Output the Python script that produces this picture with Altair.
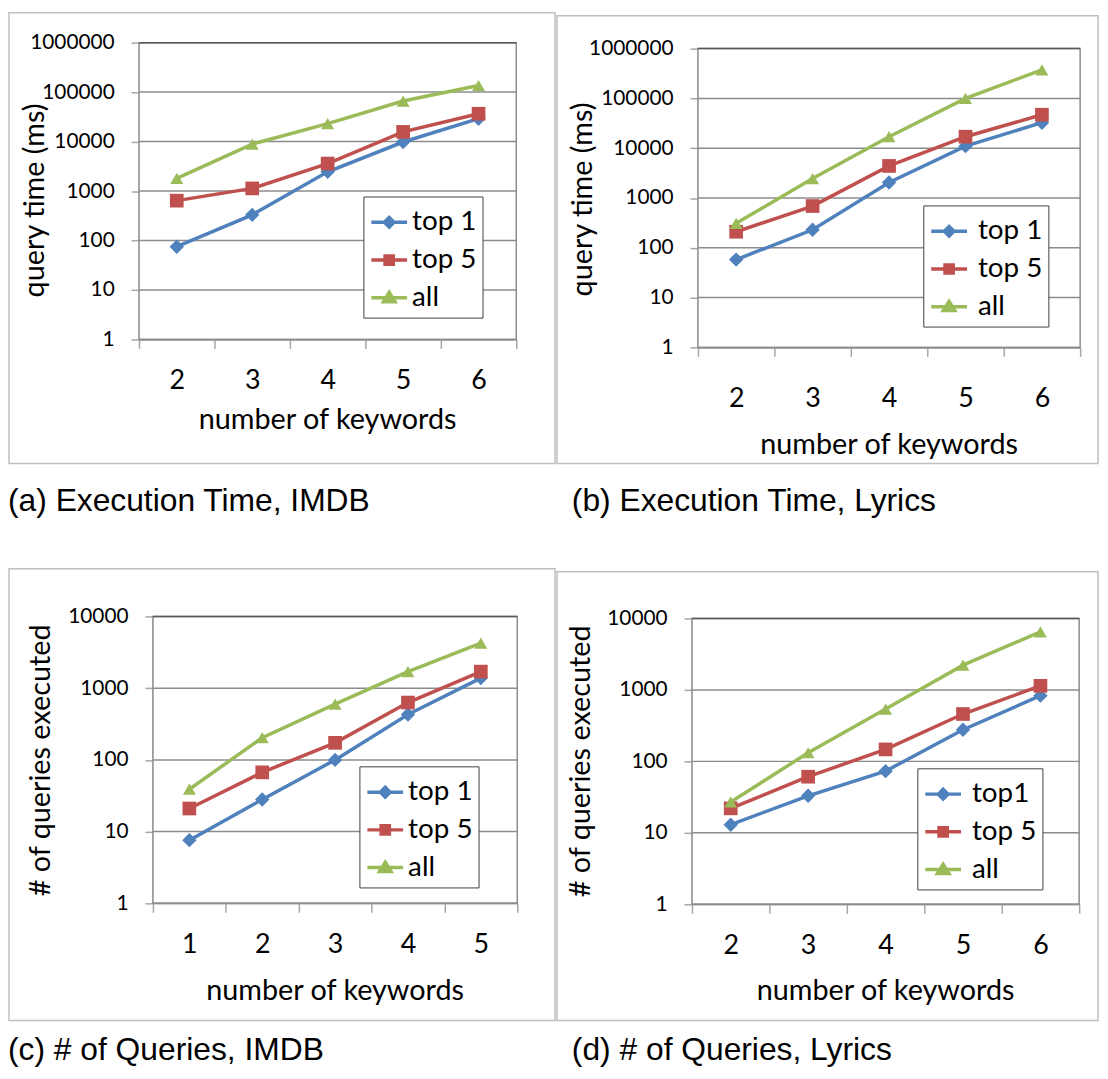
import altair as alt
import pandas as pd

# ---------------- data ----------------
keywords_abd = [2, 3, 4, 5, 6]
keywords_c = [1, 2, 3, 4, 5]
series_names = ["top 1", "top 5", "all"]
series_names_d = ["top1", "top 5", "all"]

a_top1 = [75, 330, 2450, 9800, 29000]
a_top5 = [640, 1130, 3600, 15700, 36500]
a_all = [1800, 8900, 23000, 66000, 136000]

b_top1 = [58, 230, 2050, 11000, 32500]
b_top5 = [210, 690, 4400, 17000, 47000]
b_all = [310, 2460, 17000, 100000, 375000]

c_top1 = [7.6, 28, 100, 430, 1380]
c_top5 = [21, 67, 173, 630, 1700]
c_all = [39, 204, 600, 1700, 4250]

d_top1 = [13, 33, 73, 277, 830]
d_top5 = [22, 61, 147, 460, 1140]
d_all = [27, 132, 540, 2220, 6500]

ticks_time = [1, 10, 100, 1000, 10000, 100000, 1000000]
ticks_queries = [1, 10, 100, 1000, 10000]

# ---------------- style ----------------
FONT = "Lato"
CAP_FONT = "Liberation Sans"
COLORS = ["#4F81BD", "#C0504D", "#9BBB59"]
MARKERS = ["diamond", "square", "triangle-up"]
MARKER_SIZES = [210, 170, 240]
LEG_PATHS = [
    "M-1,0H1M0,-0.27L0.27,0L0,0.27L-0.27,0Z",
    "M-1,0H1M-0.23,-0.23H0.23V0.23H-0.23Z",
    "M-1,0H1M0,-0.3L0.32,0.22H-0.32Z",
]
AXC = "#A6A6A6"
GRIDC = "#8C8C8C"
TOPC = "#595959"
BORDERC = "#BFBFBF"

W, H = 1100, 1062
O = 7  # reference pixel that maps to the view origin


def v(p):
    return p - O


def panel(kw, vals, names, ticks, ytitle, caption, L):
    rows = []
    for name, series in zip(names, vals):
        for k, val in zip(kw, series):
            rows.append({"kw": k, "value": val, "series": name})
    df = pd.DataFrame(rows)
    x0, x1, y0, y1 = [v(p) for p in L["plot"]]  # left, right, top, bottom
    one = alt.Data(values=[{"k": 1}])
    ymax = ticks[-1]

    xscale = alt.Scale(type="band", range=[x0, x1], paddingInner=0, paddingOuter=0)
    yscale = alt.Scale(type="log", domain=[1, ymax], range=[y1, y0], nice=False)

    xaxis = alt.Axis(
        title=None, orient="bottom", offset=y1 - H, labelAngle=0, tickBand="extent",
        tickSize=9, tickWidth=1.5, tickColor=AXC, domainColor=AXC, domainWidth=1.5,
        grid=False, labelFont=FONT, labelFontSize=27, labelColor="black",
        labelBaseline="middle", labelPadding=v(L["xlab"]) - y1 - 9,
    )
    yaxis = alt.Axis(
        title=None, orient="left", offset=-x0, values=ticks, format="d", grid=False,
        tickSize=8, tickWidth=1.5, tickColor=AXC, domainColor=AXC, domainWidth=1.5,
        labelFont=FONT, labelFontSize=21, labelColor="black", labelPadding=17,
    )
    xenc = alt.X("kw:O", scale=xscale, axis=xaxis)
    yenc = alt.Y("value:Q", scale=yscale, axis=yaxis)
    cscale = alt.Scale(domain=names, range=COLORS)

    border = alt.Chart(one).mark_rect(fillOpacity=0, stroke=BORDERC, strokeWidth=1.5).encode(
        x=alt.value(max(v(L["border"][0]), 1)), x2=alt.value(v(L["border"][1])),
        y=alt.value(max(v(L["border"][2]), 1)), y2=alt.value(v(L["border"][3])),
    )
    plotbg = alt.Chart(one).mark_rect(fill="white", stroke=GRIDC, strokeWidth=1.5).encode(
        x=alt.value(x0), x2=alt.value(x1), y=alt.value(y0), y2=alt.value(y1),
    )
    grid = alt.Chart(pd.DataFrame({"value": ticks})).mark_rule(strokeWidth=1.5).encode(
        y=yenc,
        x=alt.value(x0), x2=alt.value(x1),
        color=alt.condition(f"datum.value >= {ymax}", alt.value(TOPC), alt.value(GRIDC)),
    )
    cap = alt.Chart(one).mark_text(
        align="left", baseline="middle", font=CAP_FONT, fontSize=32, color="black"
    ).encode(
        x=alt.value(v(L["caption"][0])), y=alt.value(v(L["caption"][1])),
        text=alt.value(caption),
    )
    ytit = alt.Chart(one).mark_text(
        align="center", baseline="middle", angle=270, font=FONT, fontSize=29, color="black"
    ).encode(
        x=alt.value(v(L["ytitle"][0])), y=alt.value(v(L["ytitle"][1])),
        text=alt.value(ytitle),
    )
    xtit = alt.Chart(one).mark_text(
        align="center", baseline="middle", font=FONT, fontSize=29, color="black"
    ).encode(
        x=alt.value((x0 + x1) / 2), y=alt.value(v(L["xtitle"])),
        text=alt.value("number of keywords"),
    )

    lines = alt.Chart(df).mark_line(strokeWidth=3.5).encode(
        x=xenc, y=yenc, color=alt.Color("series:N", scale=cscale, legend=None),
    )
    points = alt.Chart(df).mark_point(filled=True, opacity=1).encode(
        x=xenc, y=yenc,
        color=alt.Color("series:N", scale=cscale, legend=None),
        shape=alt.Shape("series:N", scale=alt.Scale(domain=names, range=MARKERS), legend=None),
        size=alt.Size("series:N", scale=alt.Scale(domain=names, range=MARKER_SIZES), legend=None),
    )

    leg = alt.Legend(
        title=None, orient="none", legendX=v(L["legend"][0]), legendY=v(L["legend"][1]),
        strokeColor="#404040", fillColor="white", padding=6, symbolSize=1296,
        symbolStrokeWidth=3.5, labelFont=FONT, labelFontSize=28, labelColor="black",
        labelOffset=L["legoff"], labelLimit=300, rowPadding=4, cornerRadius=0,
    )
    legend_layer = (
        alt.Chart(df).transform_filter("false").mark_point(filled=True, opacity=1)
        .encode(
            shape=alt.Shape("series:N", scale=alt.Scale(domain=names, range=LEG_PATHS), legend=leg),
            fill=alt.Fill("series:N", scale=alt.Scale(domain=names, range=COLORS), legend=leg),
            stroke=alt.Stroke("series:N", scale=alt.Scale(domain=names, range=COLORS), legend=leg),
        )
    )

    return alt.layer(
        border, plotbg, grid, cap, ytit, xtit, lines, points, legend_layer
    ).resolve_scale(shape="independent", fill="independent", stroke="independent",
                    size="independent")


# layout in reference pixel coordinates: plot = (left, right, top, bottom)
LA = dict(plot=(139, 519, 38, 337), border=(7, 558, 7, 462), caption=(7, 500),
          legend=(365, 193), legoff=3, ytitle=(34, 197), xtitle=418, xlab=378)
LB = dict(plot=(702, 1087, 44, 345), border=(560, 1105, 11, 462), caption=(575, 500),
          legend=(929, 202), legoff=9, ytitle=(586, 196), xtitle=443, xlab=397)
LC = dict(plot=(153, 520, 616, 905), border=(7, 558, 568, 1023), caption=(7, 1053),
          legend=(361, 767), legoff=3, ytitle=(40, 761), xtitle=993, xlab=947)
LD = dict(plot=(696, 1086, 618, 906), border=(560, 1105, 571, 1023), caption=(575, 1053),
          legend=(923, 769), legoff=9, ytitle=(584, 762), xtitle=993, xlab=948)

pa = panel(keywords_abd, [a_top1, a_top5, a_all], series_names, ticks_time,
           "query time (ms)", "(a) Execution Time, IMDB", LA)
pb = panel(keywords_abd, [b_top1, b_top5, b_all], series_names, ticks_time,
           "query time (ms)", "(b) Execution Time, Lyrics", LB)
pc = panel(keywords_c, [c_top1, c_top5, c_all], series_names, ticks_queries,
           "# of queries executed", "(c) # of Queries, IMDB", LC)
pd_ = panel(keywords_abd, [d_top1, d_top5, d_all], series_names_d, ticks_queries,
            "# of queries executed", "(d) # of Queries, Lyrics", LD)

chart = (
    alt.layer(pa, pb, pc, pd_)
    .resolve_scale(x="independent", y="independent", color="independent",
                   shape="independent", fill="independent", stroke="independent",
                   size="independent")
    .resolve_axis(x="independent", y="independent")
    .properties(width=W, height=H, padding=0, background="white",
                autosize=alt.AutoSizeParams(type="none"))
    .configure_view(stroke=None)
)

chart.save("out.html", embed_options={"renderer": "svg", "actions": False})
